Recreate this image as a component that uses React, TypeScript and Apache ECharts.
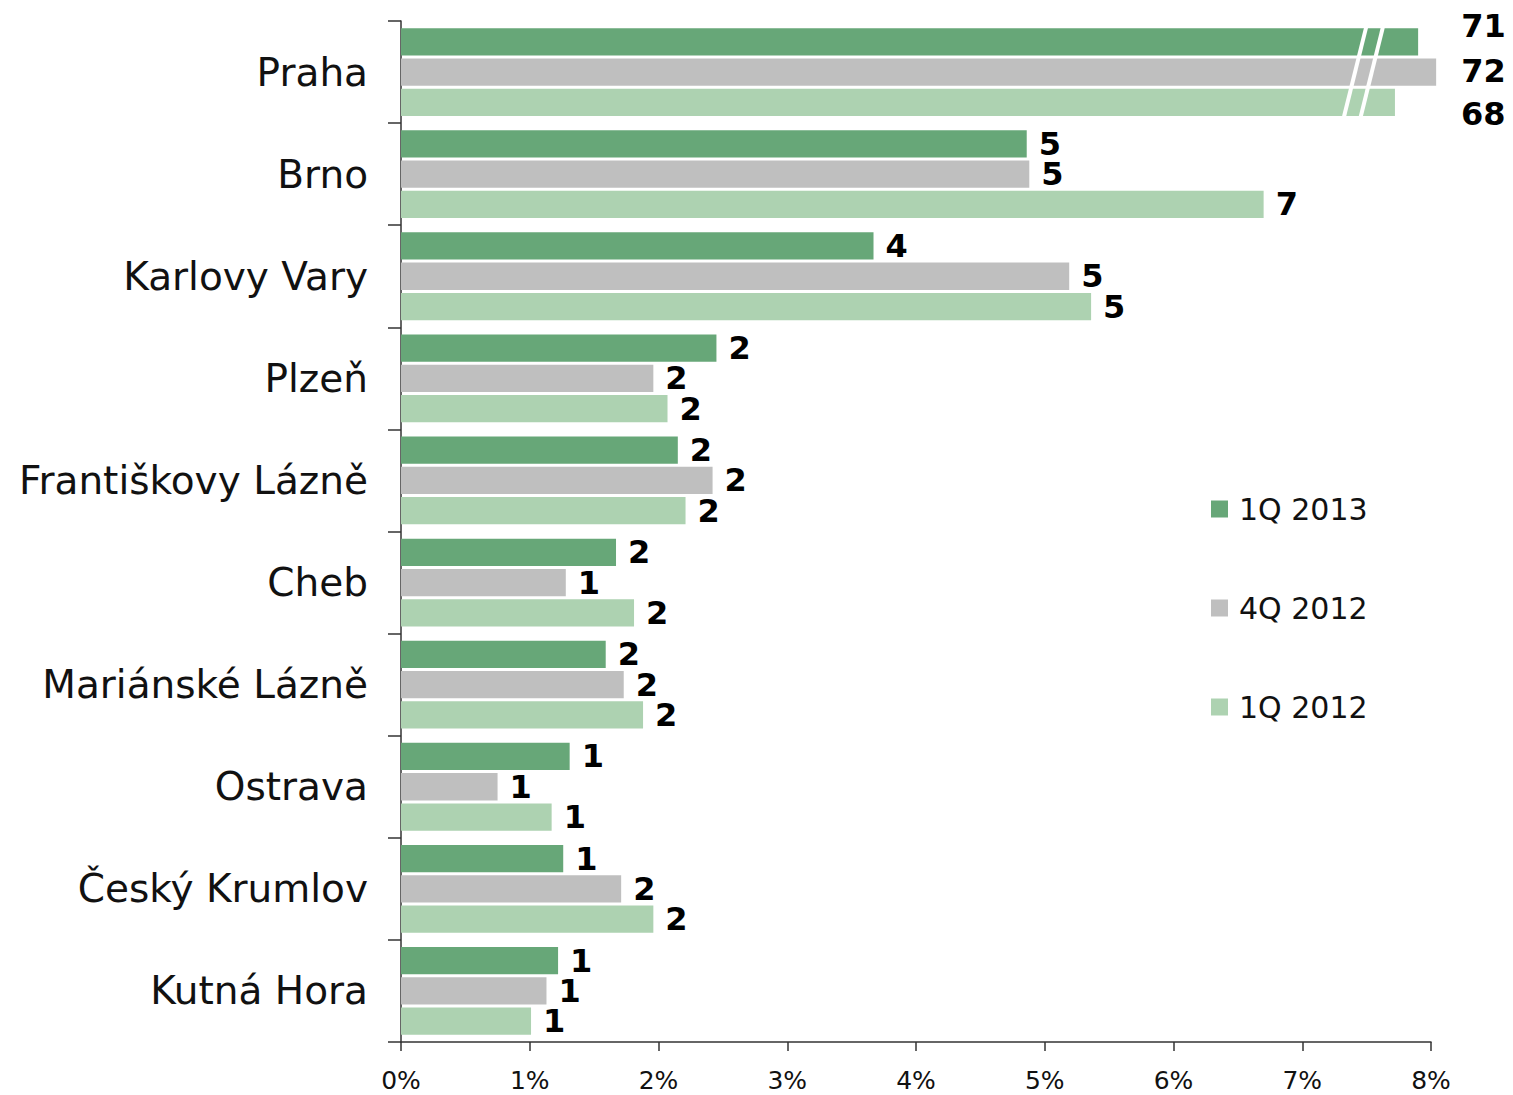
import React, { useEffect, useRef } from "react";
import * as echarts from "echarts";

const categories = [
  "Praha",
  "Brno",
  "Karlovy Vary",
  "Plzeň",
  "Františkovy Lázně",
  "Cheb",
  "Mariánské Lázně",
  "Ostrava",
  "Český Krumlov",
  "Kutná Hora",
];

const seriesNames = ["1Q 2013", "4Q 2012", "1Q 2012"];

// bar lengths (share, %)
const share1Q2013 = [7.9, 4.86, 3.67, 2.45, 2.15, 1.67, 1.59, 1.31, 1.26, 1.22];
const share4Q2012 = [8.04, 4.88, 5.19, 1.96, 2.42, 1.28, 1.73, 0.75, 1.71, 1.13];
const share1Q2012 = [7.72, 6.7, 5.36, 2.07, 2.21, 1.81, 1.88, 1.17, 1.96, 1.01];

// value labels shown next to bars
const count1Q2013 = [71, 5, 4, 2, 2, 2, 2, 1, 1, 1];
const count4Q2012 = [72, 5, 5, 2, 2, 1, 2, 1, 2, 1];
const count1Q2012 = [68, 7, 5, 2, 2, 2, 2, 1, 2, 1];

const colors = ["#67A778", "#BFBFBF", "#ADD2B1"];

const xMin = 0;
const xMax = 8;
const xInterval = 1;

// axis break marks on the first category (values on x axis)
const breakAt = [7.41, 7.54];

// label offsets for the broken (first) category
const firstLabelOffsets: [number, number][] = [
  [31, -16],
  [13, -1],
  [54, 12],
];

export default function App() {
  const ref = useRef<HTMLDivElement>(null);

  useEffect(() => {
    if (!ref.current) return;
    const chart = echarts.init(ref.current, null, { renderer: "svg" });
    const shares = [share1Q2013, share4Q2012, share1Q2012];
    const counts = [count1Q2013, count4Q2012, count1Q2012];

    const series = seriesNames.map((name, si) => ({
      name,
      type: "bar",
      clip: false,
      barGap: "11%",
      barCategoryGap: "14%",
      itemStyle: { color: colors[si] },
      label: {
        show: true,
        position: "right",
        distance: 12,
        color: "#000",
        fontFamily: "DejaVu Sans",
        fontWeight: "bold",
        fontSize: 32,
        lineHeight: 26,
        formatter: (p: any) => String(counts[si][p.dataIndex]),
      },
      data: shares[si].map((v, i) =>
        i === 0 ? { value: v, label: { offset: firstLabelOffsets[si] } } : v
      ),
    }));

    chart.setOption({
      animation: false,
      color: colors,
      grid: { left: 401, right: 82, top: 21, bottom: 53, containLabel: false },
      legend: {
        orient: "vertical",
        left: 1211,
        top: 494,
        padding: 0,
        itemWidth: 17,
        itemHeight: 17,
        itemGap: 69,
        icon: "rect",
        data: seriesNames,
        textStyle: {
          fontFamily: "DejaVu Sans",
          fontSize: 30,
          lineHeight: 30,
          color: "#111",
          padding: [0, 0, 0, 6],
        },
      },
      xAxis: {
        type: "value",
        min: xMin,
        max: xMax,
        interval: xInterval,
        splitLine: { show: false },
        axisLine: { show: true, lineStyle: { color: "#333", width: 1.5 } },
        axisTick: { show: true, length: 9, lineStyle: { color: "#333", width: 1.5 } },
        axisLabel: {
          formatter: "{value}%",
          fontFamily: "DejaVu Sans",
          fontSize: 25,
          lineHeight: 25,
          color: "#111",
          margin: 26,
        },
      },
      yAxis: {
        type: "category",
        inverse: true,
        data: categories,
        axisLine: { show: true, lineStyle: { color: "#333", width: 1.5 } },
        axisTick: {
          show: true,
          length: 13,
          alignWithLabel: false,
          lineStyle: { color: "#333", width: 1.5 },
        },
        axisLabel: {
          fontFamily: "DejaVu Sans",
          fontSize: 39,
          color: "#111",
          margin: 33,
        },
      },
      series,
    });

    const yc = chart.convertToPixel({ yAxisIndex: 0 }, categories[0]) as number;
    const yn = chart.convertToPixel({ yAxisIndex: 0 }, categories[1]) as number;
    const band = yn - yc;
    const h = band * 0.435;
    const lines = breakAt.map((v) => {
      const x = chart.convertToPixel({ xAxisIndex: 0 }, v) as number;
      return {
        type: "line",
        z: 100,
        shape: { x1: x + 11, y1: yc - h, x2: x - 11, y2: yc + h },
        style: { stroke: "#ffffff", lineWidth: 4 },
      };
    });
    chart.setOption({ graphic: lines });

    return () => chart.dispose();
  }, []);

  return (
    <div
      ref={ref}
      style={{ position: "absolute", left: 0, top: 0, width: 1513, height: 1095 }}
    />
  );
}
